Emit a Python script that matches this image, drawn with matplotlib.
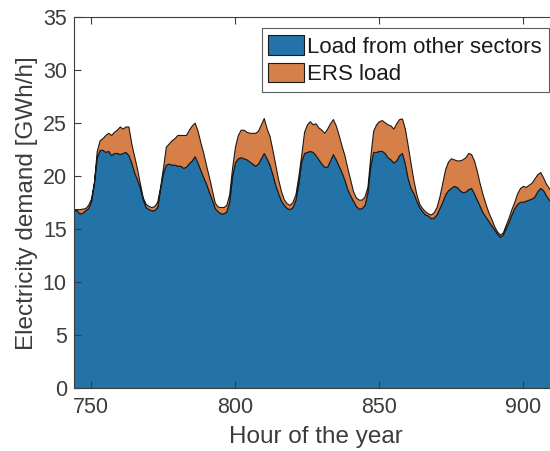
import numpy as np
from matplotlib import pyplot as plt

plt.rcParams['font.family'] = ['Liberation Sans', 'DejaVu Sans']

# hourly values (GWh/h)
hours = np.arange(744, 911)

total_load = [
    16.9, 16.9, 16.9, 16.95, 17.0, 17.3, 17.9, 19.4, 22.4, 23.4,   # 744-753
    23.6, 23.9, 24.1, 23.9, 24.2, 24.4, 24.7, 24.5, 24.7, 24.7,    # 754-763
    23.1, 21.9, 20.7, 19.3, 18.0, 17.4, 17.2, 17.1, 17.2, 17.6,    # 764-773
    19.0, 20.8, 22.8, 23.1, 23.4, 23.6, 23.9, 23.9, 23.9, 23.9,    # 774-783
    24.4, 24.8, 25.06, 24.3, 23.2, 22.2, 21.0, 19.9, 18.7, 17.5,   # 784-793
    17.15, 17.1, 17.1, 17.3, 18.3, 20.8, 22.8, 23.9, 24.4, 24.4,   # 794-803
    24.2, 24.1, 24.1, 24.1, 24.3, 24.9, 25.5, 24.5, 23.8, 22.5,    # 804-813
    21.1, 19.7, 18.6, 17.8, 17.45, 17.3, 17.6, 18.3, 20.0, 22.0,   # 814-823
    24.2, 24.9, 25.2, 24.9, 25.0, 24.6, 24.4, 24.1, 24.5, 25.0,    # 824-833
    25.4, 24.8, 23.9, 22.9, 22.0, 20.8, 19.7, 18.6, 18.0, 17.8,    # 834-843
    17.8, 18.1, 19.0, 21.9, 24.3, 24.9, 25.2, 25.3, 25.1, 24.9,    # 844-853
    24.8, 24.5, 25.0, 25.4, 25.45, 24.5, 22.9, 21.2, 19.6, 18.3,   # 854-863
    17.4, 17.0, 16.7, 16.5, 16.4, 16.6, 17.1, 18.1, 19.4, 20.7,    # 864-873
    21.4, 21.7, 21.6, 21.5, 21.5, 21.6, 21.8, 22.2, 22.1, 21.5,    # 874-883
    20.5, 19.3, 18.3, 17.4, 16.6, 16.0, 15.3, 14.8, 14.5, 14.7,    # 884-893
    15.4, 16.1, 16.9, 17.6, 18.4, 18.9, 19.1, 19.0, 19.2, 19.4,    # 894-903
    19.8, 20.2, 20.4, 19.9, 19.3, 18.9, 18.5,                      # 904-910
]

other_load = [
    16.8, 16.8, 16.5, 16.55, 16.8, 17.0, 17.6, 19.3, 21.8, 22.5,
    22.5, 22.3, 22.4, 22.0, 22.2, 22.2, 22.1, 22.2, 22.3, 22.0,
    21.3, 20.4, 19.7, 18.9, 17.8, 17.1, 16.9, 16.8, 16.8, 17.1,
    18.8, 20.3, 21.1, 21.2, 21.1, 21.1, 21.0, 21.0, 20.8, 20.9,
    21.25, 21.5, 21.9, 21.3, 20.6, 19.9, 19.3, 18.5, 17.8, 17.0,
    16.7, 16.5, 16.5, 16.7, 17.6, 20.0, 21.3, 21.7, 21.8, 21.7,
    21.6, 21.4, 21.2, 21.0, 21.2, 21.7, 22.2, 21.7, 21.1, 20.2,
    19.2, 18.4, 17.7, 17.3, 17.0, 16.9, 17.1, 17.8, 19.3, 21.4,
    22.2, 22.3, 22.4, 22.3, 22.0, 21.6, 21.2, 20.9, 20.9, 21.5,
    22.1, 21.6, 21.0, 20.4, 19.7, 18.8, 18.2, 17.7, 17.2, 16.95,
    17.0, 17.3, 18.5, 21.0, 22.3, 22.3, 22.4, 22.4, 22.2, 21.8,
    21.6, 21.3, 21.5, 22.0, 22.2, 21.2, 19.8, 18.9, 18.4, 17.7,
    17.1, 16.7, 16.4, 16.3, 16.05, 16.1, 16.4, 17.0, 17.6, 18.3,
    18.7, 18.9, 19.1, 19.0, 18.7, 18.5, 18.55, 18.8, 18.9, 18.4,
    17.8, 17.2, 16.6, 16.2, 15.8, 15.4, 15.0, 14.6, 14.3, 14.5,
    15.1, 15.7, 16.4, 17.0, 17.4, 17.6, 17.6, 17.7, 17.8, 17.9,
    18.1, 18.6, 18.9, 18.7, 18.2, 17.8, 17.5,
]

ers_load = np.array(total_load) - np.array(other_load)

series_labels = ['Load from other sectors', 'ERS load']
colors = ['#2372a8', '#d77f48']
axis_grey = '#3c3c3c'

fig = plt.figure(figsize=(5.5, 4.51), dpi=100)
# axes run past the right edge of the picture, like the cropped original
ax = fig.add_axes([73.7 / 550, 62.7 / 451, 483.8 / 550, 371 / 451])

ax.stackplot(hours, other_load, ers_load, labels=series_labels, colors=colors,
             edgecolor='#1a1a1a', linewidth=0.8)

ax.set_xlim(744, 912)
ax.set_ylim(0, 35)
ax.set_xticks([750, 800, 850, 900])
ax.set_yticks(np.arange(0, 36, 5))

ax.tick_params(direction='in', length=5, width=0.8, colors=axis_grey,
               labelsize=15.5, top=True, right=True)
ax.tick_params(axis='x', pad=6)
ax.tick_params(axis='y', pad=5)
for side in ax.spines.values():
    side.set_color(axis_grey)
    side.set_linewidth(0.8)

ax.set_xlabel('Hour of the year', fontsize=17.5, color=axis_grey, labelpad=6)
ax.set_ylabel('Electricity demand [GWh/h]', fontsize=17.5, color=axis_grey, labelpad=3)

leg = ax.legend(loc='upper left', bbox_to_anchor=(188 / 483.8, 0.970),
                fontsize=16, frameon=True, fancybox=False, borderpad=0.3,
                handlelength=1.6, handleheight=1.0, handletextpad=0.15,
                labelspacing=0.22, borderaxespad=0)
leg.get_frame().set_edgecolor('#333333')
leg.get_frame().set_linewidth(0.8)
for t in leg.get_texts():
    t.set_color('#1a1a1a')

fig.savefig('out.png', dpi=100)
